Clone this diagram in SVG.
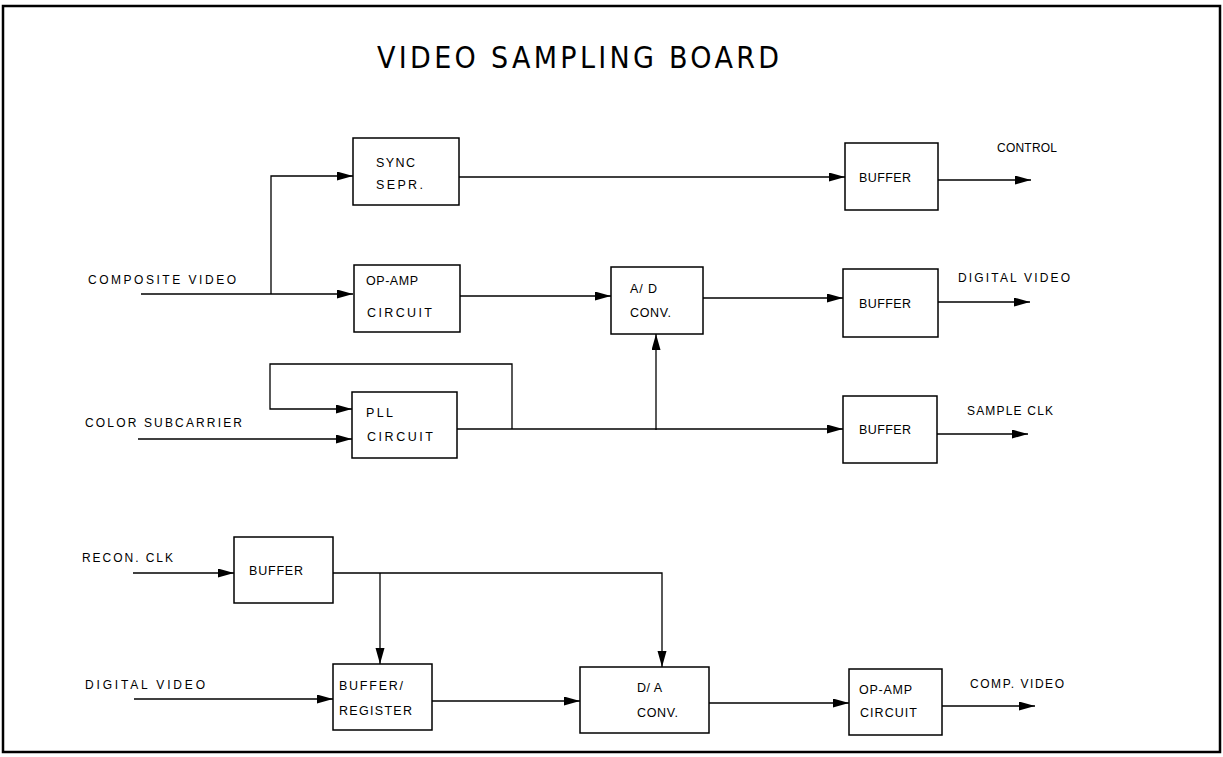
<svg xmlns="http://www.w3.org/2000/svg" width="1223" height="757" viewBox="0 0 1223 757">
<style>
.box{fill:#fff;stroke:#000;stroke-width:1.5}
.ln{fill:none;stroke:#000;stroke-width:1.3}
.t{font-family:"Liberation Sans",Arial,sans-serif;font-size:12.5px;fill:#000}
.l{font-family:"Liberation Sans",Arial,sans-serif;font-size:12px;fill:#000}
.title{font-family:"DejaVu Sans Condensed","Liberation Sans Narrow","Liberation Sans",Arial,sans-serif;font-stretch:condensed;font-size:30px;fill:#000;font-weight:normal}
</style>
<defs>
<marker id="ah" markerUnits="userSpaceOnUse" markerWidth="17" markerHeight="10" refX="16" refY="4.5" orient="auto">
<path d="M0,0 L16,4.5 L0,9 z" fill="#000"/>
</marker>
</defs>
<rect x="3" y="6" width="1217" height="746" fill="#fff" stroke="#000" stroke-width="2.5"/>
<text class="title" x="377" y="68" textLength="402" lengthAdjust="spacing">VIDEO SAMPLING BOARD</text>

<g id="connectors">
<path class="ln" d="M141,294 H353" marker-end="url(#ah)"/>
<path class="ln" d="M271,294 V176 H353" marker-end="url(#ah)"/>
<path class="ln" d="M459,177 H845" marker-end="url(#ah)"/>
<path class="ln" d="M938,180 H1031" marker-end="url(#ah)"/>
<path class="ln" d="M460,296 H611" marker-end="url(#ah)"/>
<path class="ln" d="M703,298 H843" marker-end="url(#ah)"/>
<path class="ln" d="M938,302 H1030" marker-end="url(#ah)"/>
<path class="ln" d="M457,429 H843" marker-end="url(#ah)"/>
<path class="ln" d="M512,429 V364 H270 V409 H352" marker-end="url(#ah)"/>
<path class="ln" d="M138,439 H352" marker-end="url(#ah)"/>
<path class="ln" d="M656,430 V334" marker-end="url(#ah)"/>
<path class="ln" d="M937,434 H1028" marker-end="url(#ah)"/>
<path class="ln" d="M133,573 H234" marker-end="url(#ah)"/>
<path class="ln" d="M333,573 H662 V667" marker-end="url(#ah)"/>
<path class="ln" d="M380,573 V664" marker-end="url(#ah)"/>
<path class="ln" d="M134,699 H333" marker-end="url(#ah)"/>
<path class="ln" d="M432,701 H580" marker-end="url(#ah)"/>
<path class="ln" d="M709,703 H849" marker-end="url(#ah)"/>
<path class="ln" d="M942,706 H1035" marker-end="url(#ah)"/>
</g>

<g id="labels">
<text class="l" x="88" y="284" textLength="148" lengthAdjust="spacing">COMPOSITE VIDEO</text>
<text class="l" x="85" y="427" textLength="157" lengthAdjust="spacing">COLOR SUBCARRIER</text>
<text class="l" x="82" y="562" textLength="91" lengthAdjust="spacing">RECON. CLK</text>
<text class="l" x="85" y="689" textLength="120" lengthAdjust="spacing">DIGITAL VIDEO</text>
<text class="l" x="997" y="152" textLength="60" lengthAdjust="spacing">CONTROL</text>
<text class="l" x="958" y="282" textLength="112" lengthAdjust="spacing">DIGITAL VIDEO</text>
<text class="l" x="967" y="415" textLength="86" lengthAdjust="spacing">SAMPLE CLK</text>
<text class="l" x="970" y="688" textLength="94" lengthAdjust="spacing">COMP. VIDEO</text>
</g>

<g id="sync">
<rect class="box" x="353" y="138" width="106" height="67"/>
<text class="t" x="376" y="167" textLength="39" lengthAdjust="spacing">SYNC</text>
<text class="t" x="376" y="189" textLength="47" lengthAdjust="spacing">SEPR.</text>
</g>
<g id="opamp1">
<rect class="box" x="354" y="265" width="106" height="67"/>
<text class="t" x="366" y="285" textLength="52" lengthAdjust="spacing">OP-AMP</text>
<text class="t" x="367" y="317" textLength="65" lengthAdjust="spacing">CIRCUIT</text>
</g>
<g id="pll">
<rect class="box" x="352" y="392" width="105" height="66"/>
<text class="t" x="366" y="417" textLength="27" lengthAdjust="spacing">PLL</text>
<text class="t" x="367" y="441" textLength="66" lengthAdjust="spacing">CIRCUIT</text>
</g>
<g id="adconv">
<rect class="box" x="611" y="267" width="92" height="67"/>
<text class="t" x="630" y="293" textLength="27" lengthAdjust="spacing">A/ D</text>
<text class="t" x="630" y="317" textLength="41" lengthAdjust="spacing">CONV.</text>
</g>
<g id="buffer1">
<rect class="box" x="845" y="143" width="93" height="67"/>
<text class="t" x="859" y="182" textLength="52" lengthAdjust="spacing">BUFFER</text>
</g>
<g id="buffer2">
<rect class="box" x="843" y="269" width="95" height="68"/>
<text class="t" x="859" y="308" textLength="52" lengthAdjust="spacing">BUFFER</text>
</g>
<g id="buffer3">
<rect class="box" x="843" y="396" width="94" height="67"/>
<text class="t" x="859" y="434" textLength="52" lengthAdjust="spacing">BUFFER</text>
</g>
<g id="buffer4">
<rect class="box" x="234" y="537" width="99" height="66"/>
<text class="t" x="249" y="575" textLength="54" lengthAdjust="spacing">BUFFER</text>
</g>
<g id="bufreg">
<rect class="box" x="333" y="664" width="99" height="66"/>
<text class="t" x="339" y="690" textLength="64" lengthAdjust="spacing">BUFFER/</text>
<text class="t" x="339" y="715" textLength="73" lengthAdjust="spacing">REGISTER</text>
</g>
<g id="daconv">
<rect class="box" x="580" y="667" width="129" height="66"/>
<text class="t" x="637" y="692" textLength="25" lengthAdjust="spacing">D/ A</text>
<text class="t" x="637" y="717" textLength="41" lengthAdjust="spacing">CONV.</text>
</g>
<g id="opamp2">
<rect class="box" x="849" y="669" width="93" height="66"/>
<text class="t" x="859" y="694" textLength="53" lengthAdjust="spacing">OP-AMP</text>
<text class="t" x="860" y="717" textLength="57" lengthAdjust="spacing">CIRCUIT</text>
</g>
</svg>
